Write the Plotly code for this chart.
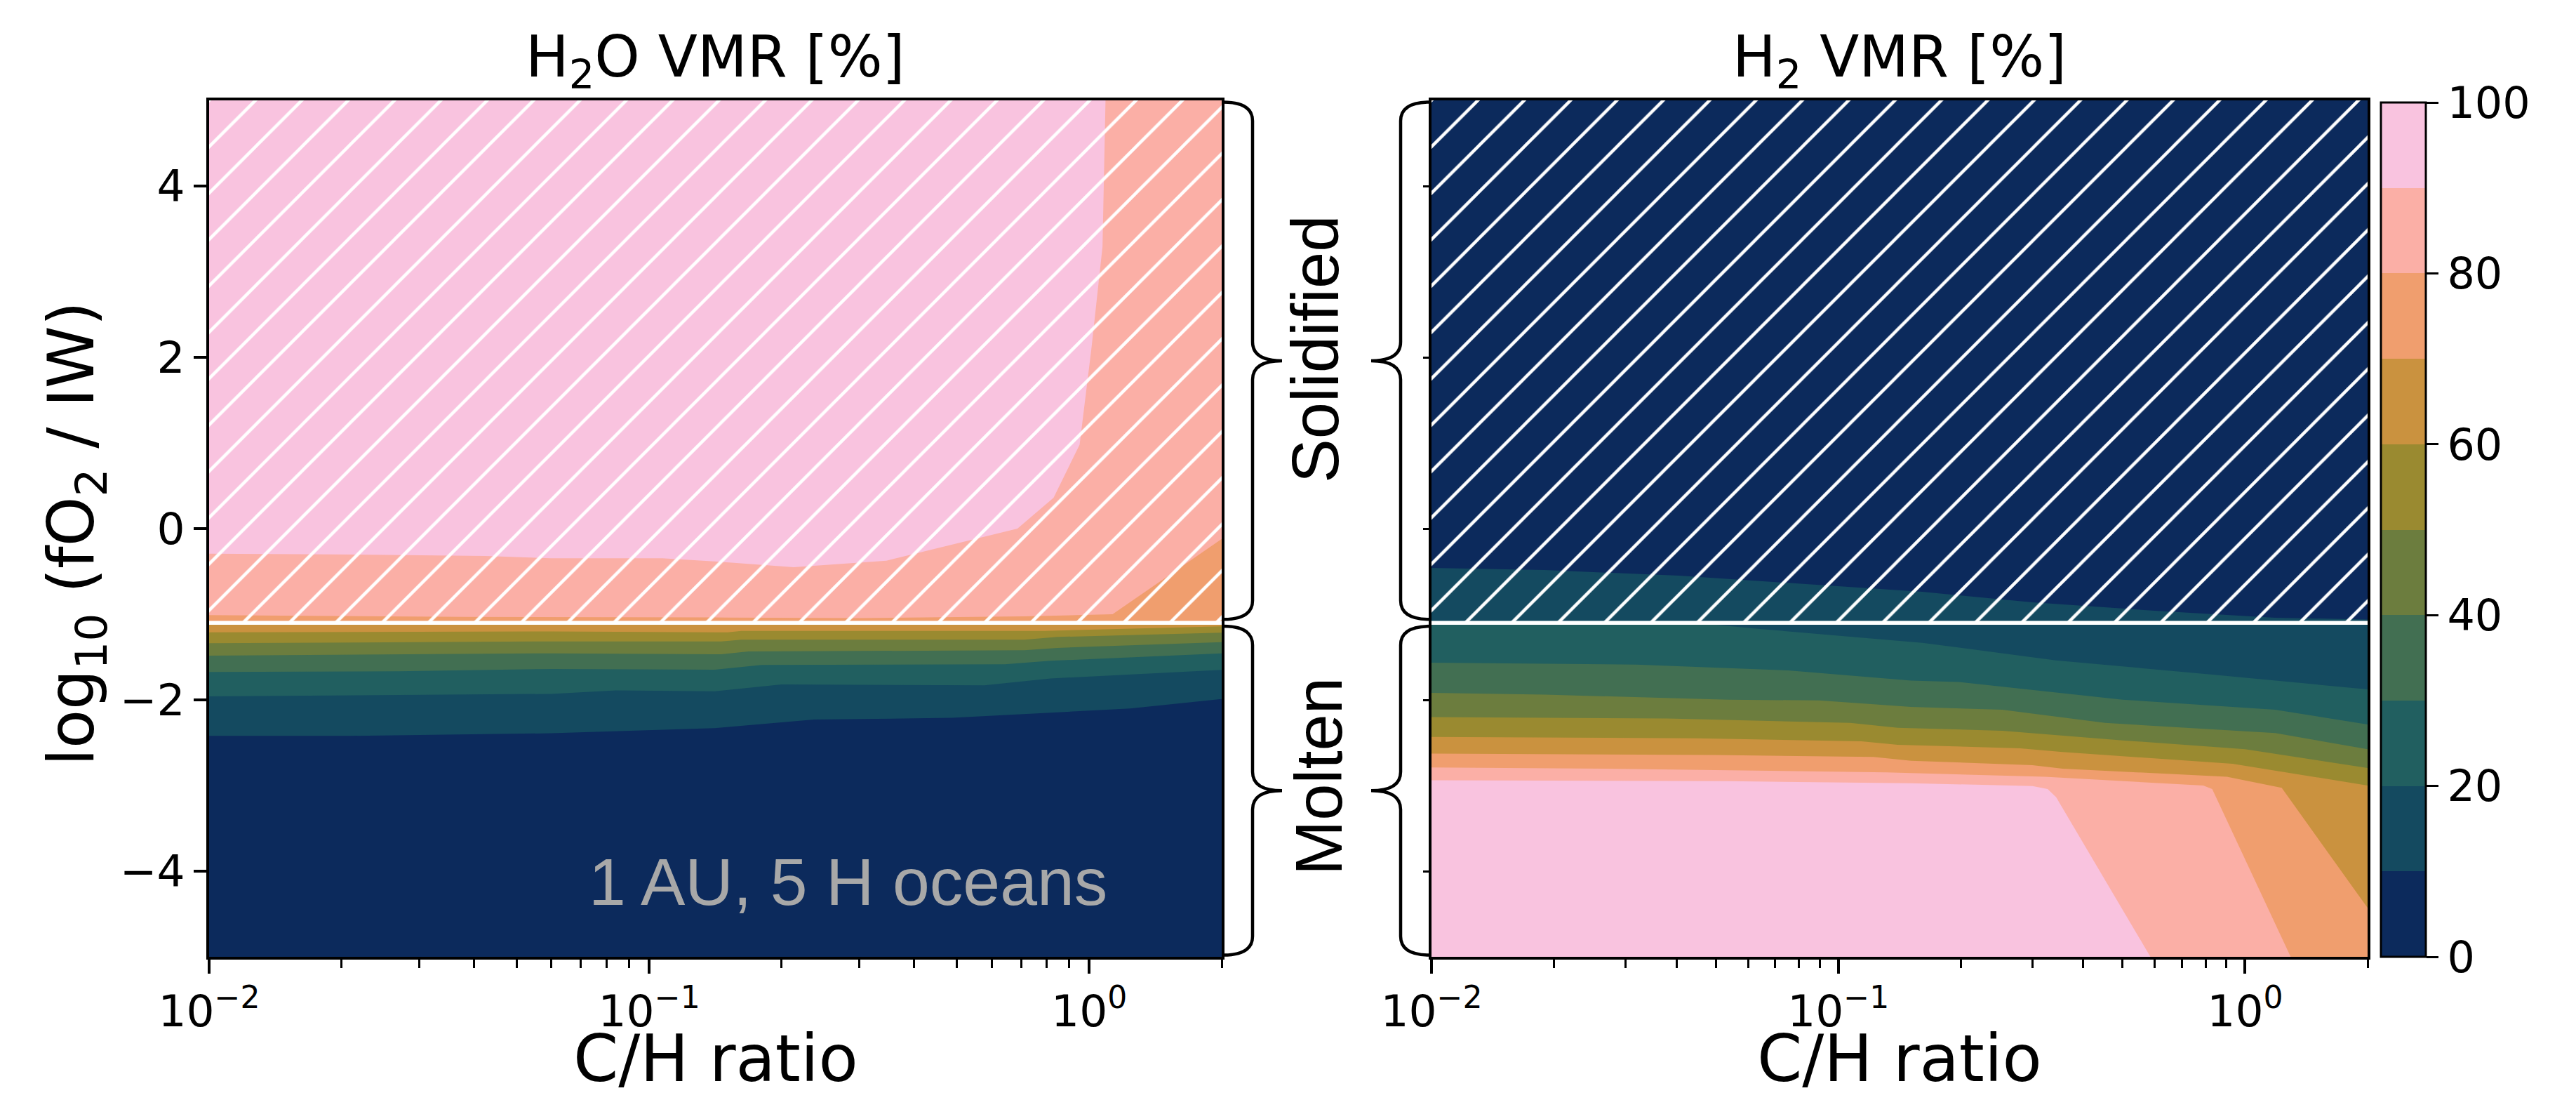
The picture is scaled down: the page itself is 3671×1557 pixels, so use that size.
import plotly.graph_objects as go

W, H = 3671, 1557

# ------------------------------------------------------------------ data
LEVELS = [0, 10, 20, 30, 40, 50, 60, 70, 80, 90, 100]
BAND_COLORS = ["#0C2A5C", "#144A60", "#215F60", "#426F52", "#6C7D3E",
               "#9A8A30", "#CA923F", "#F09E6E", "#FBAFA6", "#F9C3DF"]

CH_RANGE = [0.01, 2.0]          # C/H ratio range (log axis)
FO2_RANGE = [-5.0, 5.0]         # log10(fO2/IW) range
MELT_BOUNDARY = -1.1            # above this the surface is solidified (hatched)

X_TICKS = [0.01, 0.1, 1.0]
X_TICK_TEXT = ["10<sup>\u22122</sup>", "10<sup>\u22121</sup>", "10<sup>0</sup>"]
X_MINOR_TICKS = [0.02, 0.03, 0.04, 0.05, 0.06, 0.07, 0.08, 0.09,
                 0.2, 0.3, 0.4, 0.5, 0.6, 0.7, 0.8, 0.9, 2.0]
Y_TICKS = [-4, -2, 0, 2, 4]
CBAR_TICKS = [0, 20, 40, 60, 80, 100]

# --- H2O VMR [%]: contour-level boundaries (value rises upward)
h2o_10_x = [0.01, 0.021, 0.060, 0.141, 0.237, 0.489, 1.24, 2.0]
h2o_10_y = [-2.42, -2.42, -2.39, -2.33, -2.23, -2.21, -2.10, -1.99]
h2o_20_x = [0.01, 0.060, 0.084, 0.141, 0.200, 0.578, 0.817, 2.0]
h2o_20_y = [-1.96, -1.93, -1.89, -1.90, -1.82, -1.83, -1.75, -1.65]
h2o_30_x = [0.01, 0.027, 0.060, 0.141, 0.180, 0.644, 0.817, 2.0]
h2o_30_y = [-1.675, -1.667, -1.639, -1.648, -1.593, -1.585, -1.544, -1.456]
h2o_40_x = [0.01, 0.060, 0.146, 0.168, 0.713, 0.847, 2.0]
h2o_40_y = [-1.484, -1.456, -1.467, -1.434, -1.421, -1.393, -1.325]
h2o_50_x = [0.01, 0.026, 0.060, 0.146, 0.162, 0.713, 0.847, 2.0]
h2o_50_y = [-1.339, -1.33, -1.317, -1.317, -1.298, -1.298, -1.265, -1.216]
h2o_60_x = [0.01, 0.060, 0.151, 0.162, 0.791, 2.0]
h2o_60_y = [-1.211, -1.20, -1.211, -1.194, -1.194, -1.142]
h2o_70_x = [0.01, 2.0]
h2o_70_y = [-1.11, -1.11]
h2o_80_x = [0.01, 0.038, 0.151, 0.301, 0.713, 1.13, 2.0]
h2o_80_y = [-1.011, -1.03, -1.038, -1.046, -1.025, -1.0, -0.12]
h2o_90_x = [0.01, 0.0191, 0.0424, 0.0598, 0.107, 0.141, 0.213, 0.346,
            0.687, 0.830, 0.951, 1.012, 1.072, 1.089]
h2o_90_y = [-0.293, -0.301, -0.320, -0.347, -0.347, -0.383, -0.451, -0.375,
            0.0, 0.36, 0.98, 2.11, 3.29, 5.0]

# --- H2 VMR [%]: contour-level boundaries (value rises downward)
h2_10_x = [0.01, 0.019, 0.0406, 0.0897, 0.161, 0.300, 0.600, 1.186, 2.0]
h2_10_y = [-0.459, -0.484, -0.549, -0.656, -0.738, -0.861, -0.959, -1.041, -1.061]
h2_20_x = [0.01, 0.0447, 0.0614, 0.161, 0.343, 0.841, 2.0]
h2_20_y = [-1.08, -1.10, -1.164, -1.333, -1.538, -1.707, -1.877]
h2_30_x = [0.01, 0.0319, 0.0753, 0.151, 0.198, 0.343, 0.500, 1.186, 2.0]
h2_30_y = [-1.565, -1.588, -1.656, -1.775, -1.792, -1.912, -1.997, -2.115, -2.286]
h2_40_x = [0.01, 0.019, 0.0536, 0.0897, 0.151, 0.253, 0.453, 1.186, 2.0]
h2_40_y = [-1.918, -1.939, -1.997, -2.007, -2.082, -2.115, -2.269, -2.388, -2.575]
h2_50_x = [0.01, 0.038, 0.107, 0.140, 0.253, 0.500, 1.0, 2.0]
h2_50_y = [-2.201, -2.218, -2.269, -2.326, -2.360, -2.473, -2.575, -2.796]
h2_60_x = [0.01, 0.045, 0.114, 0.140, 0.280, 0.356, 0.931, 2.0]
h2_60_y = [-2.432, -2.449, -2.483, -2.524, -2.565, -2.609, -2.745, -3.0]
h2_70_x = [0.01, 0.0497, 0.122, 0.151, 0.300, 0.356, 0.902, 1.23, 2.0]
h2_70_y = [-2.627, -2.643, -2.667, -2.711, -2.762, -2.803, -2.898, -3.027, -4.429]
h2_80_x = [0.01, 0.0268, 0.131, 0.322, 0.789, 0.830, 1.294]
h2_80_y = [-2.789, -2.803, -2.847, -2.898, -3.0, -3.041, -5.0]
h2_90_x = [0.01, 0.0536, 0.151, 0.300, 0.327, 0.343, 0.585]
h2_90_y = [-2.939, -2.949, -2.973, -3.006, -3.041, -3.136, -5.0]

H2O_LINES = {10: (h2o_10_x, h2o_10_y), 20: (h2o_20_x, h2o_20_y), 30: (h2o_30_x, h2o_30_y),
             40: (h2o_40_x, h2o_40_y), 50: (h2o_50_x, h2o_50_y), 60: (h2o_60_x, h2o_60_y),
             70: (h2o_70_x, h2o_70_y), 80: (h2o_80_x, h2o_80_y), 90: (h2o_90_x, h2o_90_y)}
H2_LINES = {10: (h2_10_x, h2_10_y), 20: (h2_20_x, h2_20_y), 30: (h2_30_x, h2_30_y),
            40: (h2_40_x, h2_40_y), 50: (h2_50_x, h2_50_y), 60: (h2_60_x, h2_60_y),
            70: (h2_70_x, h2_70_y), 80: (h2_80_x, h2_80_y), 90: (h2_90_x, h2_90_y)}

# ------------------------------------------------------------------ layout geometry (px)
FONT = "DejaVu Sans"
SANS2 = "Liberation Sans"
L_X0, L_X1 = 290, 1733
R_X0, R_X1 = 2032, 3366
P_Y0, P_Y1 = 135, 1355


def px(x):
    return x / W


def py(y):
    return 1 - y / H


fig = go.Figure()


def band_traces(lines, xa, ya, upward):
    edge = FO2_RANGE[1] if upward else FO2_RANGE[0]
    for i, lev in enumerate(LEVELS[1:-1], start=1):
        xs, ys = lines[lev]
        poly_x = list(xs) + [xs[-1], CH_RANGE[0]]
        poly_y = list(ys) + [edge, edge]
        fig.add_trace(go.Scatter(
            x=poly_x, y=poly_y, xaxis=xa, yaxis=ya, mode="lines",
            fill="toself", fillcolor=BAND_COLORS[i], line=dict(width=0, color=BAND_COLORS[i]),
            hoverinfo="skip", showlegend=False))


def hatch_traces(xa, ya):
    hx = [CH_RANGE[0], CH_RANGE[1], CH_RANGE[1], CH_RANGE[0]]
    hy = [MELT_BOUNDARY, MELT_BOUNDARY, FO2_RANGE[1], FO2_RANGE[1]]
    fig.add_trace(go.Scatter(
        x=hx, y=hy, xaxis=xa, yaxis=ya, mode="lines", fill="toself",
        fillcolor="rgba(0,0,0,0)", line=dict(width=0),
        fillpattern=dict(shape="/", size=46.7, solidity=0.095, fgcolor="white",
                         bgcolor="rgba(0,0,0,0)", fillmode="replace"),
        hoverinfo="skip", showlegend=False))
    fig.add_trace(go.Scatter(
        x=CH_RANGE, y=[MELT_BOUNDARY, MELT_BOUNDARY], xaxis=xa, yaxis=ya, mode="lines",
        line=dict(color="white", width=5.5), hoverinfo="skip", showlegend=False))


band_traces(H2O_LINES, "x", "y", upward=True)
hatch_traces("x", "y")
band_traces(H2_LINES, "x2", "y2", upward=False)
hatch_traces("x2", "y2")

# colour bar (stepped batlow-like scale)
cscale = []
for i, c in enumerate(BAND_COLORS):
    cscale.append([i / 10, c])
    cscale.append([(i + 1) / 10, c])
fig.add_trace(go.Scatter(
    x=[None], y=[None], xaxis="x2", yaxis="y2", mode="markers",
    marker=dict(color=[0], cmin=LEVELS[0], cmax=LEVELS[-1], colorscale=cscale, showscale=True,
                colorbar=dict(
                    thickness=64, thicknessmode="pixels",
                    len=(P_Y1 - 138) / H, lenmode="fraction", y=py(P_Y1), yanchor="bottom",
                    x=px(3385), xanchor="left", xpad=0, ypad=0,
                    outlinewidth=3, outlinecolor="black",
                    ticks="outside", ticklen=17, tickwidth=3, tickcolor="black",
                    tickmode="array", tickvals=CBAR_TICKS,
                    tickfont=dict(family=FONT, size=62, color="black"))),
    hoverinfo="skip", showlegend=False))

axis_common = dict(showline=True, linewidth=3.5, linecolor="black", mirror=True,
                   showgrid=False, zeroline=False, ticks="outside", tickcolor="black",
                   automargin=False,
                   tickfont=dict(family=FONT, size=63, color="black"))

xcommon = dict(axis_common, type="log", range=[-2, 0.30103], tickmode="array",
               tickvals=X_TICKS, ticktext=X_TICK_TEXT, ticklen=20, tickwidth=3.5,
               minor=dict(ticks="outside", ticklen=12, tickwidth=2.5, tickcolor="black",
                          tickmode="array", tickvals=X_MINOR_TICKS, showgrid=False))

fig.update_layout(
    width=W, height=H, autosize=False,
    margin=dict(l=0, r=0, t=0, b=0, autoexpand=False),
    paper_bgcolor="white", plot_bgcolor=BAND_COLORS[0],
    font=dict(family=FONT, color="black"),
    showlegend=False,
    xaxis=dict(xcommon, domain=[px(L_X0), px(L_X1)], anchor="y"),
    yaxis=dict(axis_common, domain=[py(P_Y1), py(P_Y0)], range=FO2_RANGE, anchor="x",
               tickmode="array", tickvals=Y_TICKS, ticklen=18, tickwidth=3.5),
    xaxis2=dict(xcommon, domain=[px(R_X0), px(R_X1)], anchor="y2"),
    yaxis2=dict(axis_common, domain=[py(P_Y1), py(P_Y0)], range=FO2_RANGE, anchor="x2",
                tickmode="array", tickvals=Y_TICKS, ticklen=8, tickwidth=3,
                showticklabels=False),
)

# ------------------------------------------------------------------ braces
def brace(x_edge, x_line, x_tip, y_top, y_bot, yref):
    ry = 0.22
    ym = (y_top + y_bot) / 2
    xe, xl, xt = px(x_edge), px(x_line), px(x_tip)
    path = (f"M{xe},{y_top} Q{xl},{y_top} {xl},{y_top - ry} "
            f"L{xl},{ym + ry} Q{xl},{ym} {xt},{ym} "
            f"M{xt},{ym} Q{xl},{ym} {xl},{ym - ry} "
            f"L{xl},{y_bot + ry} Q{xl},{y_bot} {xe},{y_bot}")
    return dict(type="path", path=path, xref="paper", yref=yref,
                line=dict(color="black", width=4.5), layer="above")


gap = 0.04
shapes = [
    brace(L_X1 + 2, 1777, 1819, FO2_RANGE[1] - 0.02, MELT_BOUNDARY + gap, "y"),
    brace(L_X1 + 2, 1777, 1819, MELT_BOUNDARY - gap, FO2_RANGE[0] + 0.02, "y"),
    brace(R_X0 - 2, 1988, 1946, FO2_RANGE[1] - 0.02, MELT_BOUNDARY + gap, "y2"),
    brace(R_X0 - 2, 1988, 1946, MELT_BOUNDARY - gap, FO2_RANGE[0] + 0.02, "y2"),
]
fig.update_layout(shapes=shapes)

# ------------------------------------------------------------------ text
annotations = [
    dict(text="H<sub>2</sub>O VMR [%]", x=px((L_X0 + L_X1) / 2), y=py(78),
         font=dict(family=FONT, size=82, color="black")),
    dict(text="H<sub>2</sub> VMR [%]", x=px((R_X0 + R_X1) / 2), y=py(78),
         font=dict(family=FONT, size=82, color="black")),
    dict(text="C/H ratio", x=px((L_X0 + L_X1) / 2), y=py(1500),
         font=dict(family=FONT, size=92, color="black")),
    dict(text="C/H ratio", x=px((R_X0 + R_X1) / 2), y=py(1500),
         font=dict(family=FONT, size=92, color="black")),
    dict(text="log<sub>10</sub> (fO<sub>2</sub> / IW)", x=px(100), y=py(752), textangle=-90,
         font=dict(family=FONT, size=90, color="black")),
    dict(text="Solidified", x=px(1866), y=py(490), textangle=-90,
         font=dict(family=SANS2, size=94, color="black")),
    dict(text="Molten", x=px(1871), y=py(1098), textangle=-90,
         font=dict(family=SANS2, size=94, color="black")),
    dict(text="1 AU, 5 H oceans", x=px(1572), y=py(1248), xanchor="right",
         font=dict(family=SANS2, size=95, color="#A8A8A8")),
]
for a in annotations:
    a.setdefault("xref", "paper")
    a.setdefault("yref", "paper")
    a.setdefault("xanchor", "center")
    a.setdefault("yanchor", "middle")
    a["showarrow"] = False
fig.update_layout(annotations=annotations)

fig.write_html("out.html")
